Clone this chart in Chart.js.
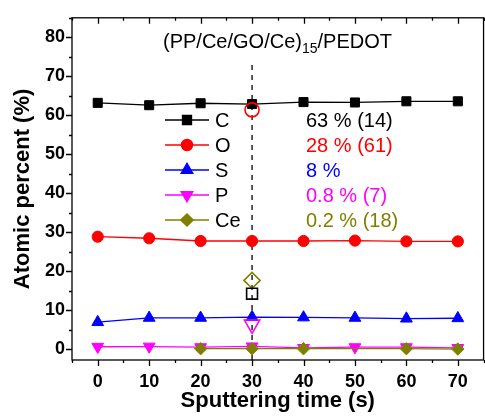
<!DOCTYPE html>
<html>
<head>
<meta charset="utf-8">
<script src="https://cdn.jsdelivr.net/npm/chart.js@4"></script>
<style>
  html, body { margin: 0; padding: 0; background: #fff; overflow: hidden; }
  #wrap { width: 494px; height: 416px; }
</style>
</head>
<body>
<div id="wrap"><canvas id="xps-chart" width="494" height="416"></canvas></div>
<script>
// sputtering time (s)
const times = [0, 10, 20, 30, 40, 50, 60, 70];

// atomic percent per element
const cVals  = [63.2, 62.6, 63.1, 62.9, 63.4, 63.3, 63.6, 63.6];
const oVals  = [28.9, 28.5, 27.8, 27.8, 27.8, 27.9, 27.7, 27.7];
const sVals  = [7.0, 8.1, 8.1, 8.3, 8.2, 8.1, 7.9, 8.0];
const pVals  = [0.7, 0.75, 0.6, 0.8, 0.4, 0.6, 0.6, 0.4];
const ceVals = [null, null, 0.2, 0.2, 0.2, null, 0.2, 0.1];

// open markers at the dashed line (values in brackets)
const markTime = 30;
const markVals = [14.3, 61.4, null, 6.4, 17.7];   // C, O, S, P, Ce

const elements = ['C', 'O', 'S', 'P', 'Ce'];
const notes = ['63 % (14)', '28 % (61)', '8 %', '0.8 % (7)', '0.2 % (18)'];

const xTicks = [0, 10, 20, 30, 40, 50, 60, 70];
const yTicks = [0, 10, 20, 30, 40, 50, 60, 70, 80];

const colors = ['#000000', '#ff0000', '#0000ff', '#ff00ff', '#808000'];
const styles = [
  { pointStyle: 'rect', radius: 6.4, rotation: 0 },
  { pointStyle: 'circle', radius: 5.6, rotation: 0 },
  { pointStyle: 'triangle', radius: 6.8, rotation: 0 },
  { pointStyle: 'triangle', radius: 6.8, rotation: 180 },
  { pointStyle: 'rectRot', radius: 6.2, rotation: 0 }
];
const openScale = [1.2, 1.25, 1.25, 1.3, 1.3];

const Y_MIN = -2.7, Y_MAX = 85;
const series = [cVals, oVals, sVals, pVals, ceVals];

const datasets = series.map((vals, i) => ({
  label: elements[i],
  data: times.map((t, j) => ({ x: t, y: vals[j] })),
  borderColor: colors[i],
  backgroundColor: colors[i],
  borderWidth: 1.3,
  pointStyle: styles[i].pointStyle,
  pointRadius: styles[i].radius,
  pointRotation: styles[i].rotation,
  pointBorderWidth: 1,
  spanGaps: true,
  order: 5 - i
}));

markVals.forEach((v, i) => {
  if (v === null) return;
  datasets.push({
    label: elements[i] + ' open',
    data: [{ x: markTime, y: v }],
    showLine: false,
    borderColor: colors[i],
    backgroundColor: 'rgba(0,0,0,0)',
    pointStyle: styles[i].pointStyle,
    pointRadius: styles[i].radius * openScale[i],
    pointRotation: styles[i].rotation,
    pointBorderWidth: 1.6,
    order: 0
  });
});

datasets.push({
  label: 'marker line',
  data: [{ x: markTime, y: Y_MIN }, { x: markTime, y: 74 }],
  borderColor: '#000',
  borderWidth: 1.3,
  borderDash: [5, 5],
  pointRadius: 0,
  order: 9
});

// frame, ticks, title and legend
const decor = {
  id: 'decor',
  afterDraw(chart) {
    const ctx = chart.ctx;
    const a = chart.chartArea;
    const xs = chart.scales.x, ys = chart.scales.y;
    ctx.save();
    ctx.strokeStyle = '#000';
    ctx.lineWidth = 1.3;
    ctx.strokeRect(a.left, a.top, a.right - a.left, a.bottom - a.top);

    ctx.beginPath();
    for (let v = -5; v <= 75; v += 5) {
      const px = Math.round(xs.getPixelForValue(v)) + 0.5;
      const len = v % 10 === 0 ? 6 : 3;
      ctx.moveTo(px, a.bottom); ctx.lineTo(px, a.bottom + len);
      ctx.moveTo(px, a.top); ctx.lineTo(px, a.top + len);
    }
    for (let v = 0; v <= 85; v += 5) {
      const py = Math.round(ys.getPixelForValue(v)) + 0.5;
      const len = v % 10 === 0 ? 6 : 3;
      ctx.moveTo(a.left, py); ctx.lineTo(a.left - len, py);
    }
    ctx.stroke();

    // title with subscript
    ctx.fillStyle = '#000';
    ctx.textBaseline = 'alphabetic';
    ctx.textAlign = 'left';
    ctx.font = '20px "Liberation Sans", Arial, sans-serif';
    let tx = 163;
    const p1 = '(PP/Ce/GO/Ce)', sub = '15', p2 = '/PEDOT';
    ctx.fillText(p1, tx, 48); tx += ctx.measureText(p1).width;
    ctx.font = '14px "Liberation Sans", Arial, sans-serif';
    ctx.fillText(sub, tx, 53); tx += ctx.measureText(sub).width;
    ctx.font = '20px "Liberation Sans", Arial, sans-serif';
    ctx.fillText(p2, tx, 48);

    // legend
    ctx.textBaseline = 'middle';
    elements.forEach((el, i) => {
      const y = 120 + i * 25;
      ctx.strokeStyle = colors[i];
      ctx.lineWidth = 1.3;
      ctx.beginPath();
      ctx.moveTo(165, y); ctx.lineTo(209, y);
      ctx.stroke();
      ctx.fillStyle = colors[i];
      Chart.helpers.drawPoint(ctx, {
        pointStyle: styles[i].pointStyle,
        radius: styles[i].radius,
        rotation: styles[i].rotation,
        borderWidth: 1
      }, 187, y);
      ctx.fill();
      ctx.font = '20px "Liberation Sans", Arial, sans-serif';
      ctx.fillStyle = '#000';
      ctx.fillText(el, 215, y + 1);
      ctx.fillStyle = colors[i];
      ctx.fillText(notes[i], 306, y + 1);
    });
    ctx.restore();
  }
};

const tickFont = { family: '"Liberation Sans", Arial, sans-serif', size: 18, weight: 'bold' };
const titleFont = { family: '"Liberation Sans", Arial, sans-serif', size: 22, weight: 'bold' };

new Chart(document.getElementById('xps-chart'), {
  type: 'line',
  data: { datasets: datasets },
  options: {
    responsive: false,
    animation: false,
    layout: { padding: { top: 14, right: 2, left: 0, bottom: 0 } },
    plugins: { legend: { display: false }, tooltip: { enabled: false } },
    scales: {
      x: {
        type: 'linear',
        min: -5,
        max: 75,
        afterBuildTicks: s => { s.ticks = xTicks.map(v => ({ value: v })); },
        afterFit: s => { s.height = 56; },
        grid: { display: false, drawTicks: false },
        border: { display: false },
        ticks: { font: tickFont, color: '#000', padding: 11 },
        title: { display: true, text: 'Sputtering time (s)', font: titleFont, color: '#000', padding: { top: 0, bottom: 2 } }
      },
      y: {
        min: Y_MIN,
        max: Y_MAX,
        afterBuildTicks: s => { s.ticks = yTicks.map(v => ({ value: v })); },
        afterFit: s => { s.width = 72; },
        grid: { display: false, drawTicks: false },
        border: { display: false },
        ticks: { font: tickFont, color: '#000', padding: 7 },
        title: { display: true, text: 'Atomic percent (%)', font: titleFont, color: '#000', padding: { top: 10, bottom: 0 } }
      }
    }
  },
  plugins: [decor]
});
</script>
</body>
</html>
